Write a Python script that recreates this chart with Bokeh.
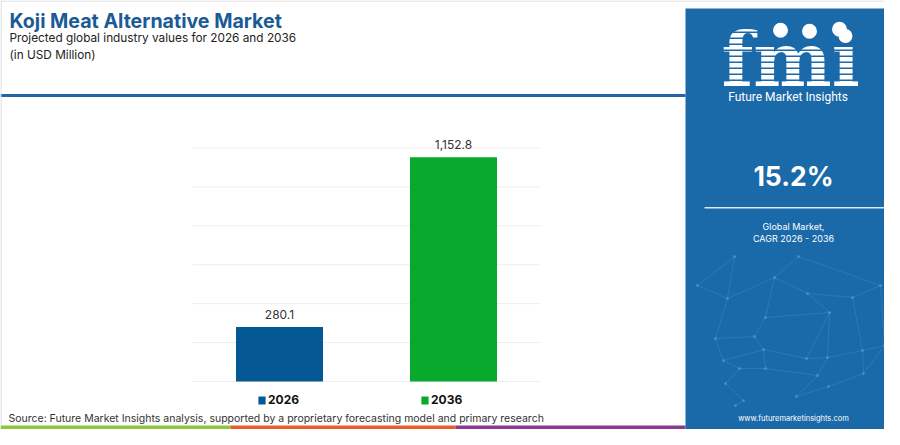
from bokeh.plotting import figure
from bokeh.models import Range1d, Legend, LegendItem, ColumnDataSource, LinearScale
from bokeh.embed import file_html
from bokeh.resources import INLINE
from bokeh.core.properties import value

# ---------------- data ----------------
years = ["2026", "2036"]
values = [280.1, 1152.8]
value_labels = ["280.1", "1,152.8"]
bar_colors = ["#045893", "#07aa2d"]
grid_ticks = [0, 200, 400, 600, 800, 1000, 1200]

title_text = "Koji Meat Alternative Market"
subtitle_text = "Projected global industry values for 2026 and 2036"
unit_text = "(in USD Million)"
cagr_text = "15.2%"
cagr_note1 = "Global Market,"
cagr_note2 = "CAGR 2026 - 2036"
brand_text = "Future Market Insights"
site_text = "www.futuremarketinsights.com"
source_text = ("Source: Future Market Insights analysis, supported by a proprietary "
               "forecasting model and primary research")

FONT = "Inter"
PANEL = "#1a69a9"
W, H = 884, 429
PANEL_X = 685

# one canvas-sized figure used as a page; the bar chart is a subplot in it
p = figure(width=W, height=H, output_backend="svg", toolbar_location=None,
           x_range=Range1d(0, W), y_range=Range1d(H, 0),
           x_axis_location=None, y_axis_location=None,
           min_border=0, min_border_left=0, min_border_right=0,
           min_border_top=0, min_border_bottom=0)
p.outline_line_color = None
p.background_fill_color = "white"
p.border_fill_color = "white"
for g in p.grid:
    g.visible = False


def txt(x, y, text, size, color, style="normal", align="left", font=FONT):
    p.text(x=[x], y=[y], text=[text], text_font=value(font), text_font_size=size,
           text_color=color, text_font_style=style, text_align=align,
           text_baseline="middle")


# ---------------- bar chart (subplot with its own scales) ----------------
chart_x = Range1d(192, 540)        # where the category band sits on the page
chart_y = Range1d(381, 147.5)      # where 0 .. 1200 sit on the page
val_range = Range1d(0, 1200)
cat_range = Range1d(0, len(years))
cat = p.subplot(x_source=cat_range, y_source=val_range,
                x_scale=LinearScale(), y_scale=LinearScale(),
                x_target=chart_x, y_target=chart_y)
cat.segment(x0=[0] * len(grid_ticks), x1=[len(years)] * len(grid_ticks),
            y0=grid_ticks, y1=grid_ticks, line_color="#eeeeee", line_width=1)

year_pos = [i + 0.5 for i, _ in enumerate(years)]
src = ColumnDataSource(dict(x=year_pos, year=years, value=values, label=value_labels,
                            color=bar_colors))
bars = cat.vbar(x="x", top="value", width=0.5, fill_color="color",
                line_color=None, source=src)
cat.text(x="x", y="value", text="label", source=src, text_align="center",
         text_baseline="middle", y_offset=-12.5, text_font=value(FONT),
         text_font_size="12px", text_color="#333333")

for i, lx in enumerate([257, 420]):
    lg = Legend(items=[LegendItem(label=years[i], renderers=[bars], index=i)],
                location=(lx, H - 407), orientation="horizontal",
                glyph_width=9, glyph_height=10, label_height=10, label_standoff=2,
                padding=0, margin=0, border_line_color=None, background_fill_alpha=0,
                label_text_font=FONT, label_text_font_size="12px",
                label_text_font_style="bold", label_text_color="#111111")
    p.add_layout(lg)

# ---------------- header ----------------
txt(9, 20.5, title_text, "19.6px", "#1a5b96", style="bold")
txt(9, 37.5, subtitle_text, "11.8px", "#222222")
txt(9, 54, unit_text, "11.8px", "#222222")
p.quad(left=[0], right=[PANEL_X], top=[93.5], bottom=[96.5], fill_color="#2366a5", line_color=None)
p.segment(x0=[0, 0.5], y0=[0.5, 0], x1=[W, 0.5], y1=[0.5, H], line_color="#d6d6d6", line_width=1)

# ---------------- footer ----------------
txt(8, 418, source_text, "10.5px", "#333333")
p.quad(left=[0, 230, 455], right=[230, 455, PANEL_X], top=[425] * 3, bottom=[429] * 3,
       fill_color=["#8dc63f", "#e85d2c", "#8b3a91"], line_color=None)

# ---------------- right panel ----------------
p.quad(left=[PANEL_X], right=[W], top=[8], bottom=[H], fill_color=PANEL, line_color=None)

# faint network pattern in the lower panel
net_x = [734, 798, 697, 727, 774, 807, 852, 880, 765, 829, 715, 754, 723, 763, 806,
         827, 862, 884, 739, 765, 817, 725, 743, 796, 828, 863, 735]
net_y = [256, 256, 285, 298, 277, 293, 297, 285, 317, 312, 338, 336, 360, 349, 358,
         357, 350, 345, 368, 368, 375, 383, 400, 396, 386, 373, 405]
edges = [(0, 3), (1, 4), (1, 7), (2, 3), (3, 4), (4, 5), (5, 6), (6, 7), (4, 8), (5, 9),
         (3, 10), (10, 11), (8, 11), (8, 9), (9, 14), (11, 13), (10, 12), (12, 13),
         (13, 14), (14, 15), (15, 16), (16, 17), (6, 16), (12, 18), (18, 19), (13, 19),
         (19, 20), (15, 20), (18, 21), (21, 22), (22, 26), (20, 23), (23, 24), (24, 25),
         (16, 25), (25, 17), (9, 15), (0, 2), (7, 17)]
p.segment(x0=[net_x[a] for a, b in edges], y0=[net_y[a] for a, b in edges],
          x1=[net_x[b] for a, b in edges], y1=[net_y[b] for a, b in edges],
          line_color="#8fc0e6", line_alpha=0.22, line_width=0.8)
p.scatter(x=net_x, y=net_y, size=3, marker="circle", fill_color="#8fc0e6",
          fill_alpha=0.35, line_color=None)

txt(721, 59.5, "fmi", "74px", "white", style="bold", font="DejaVu Serif")
stripe_y = list(range(43, 85, 6))
p.quad(left=[716] * len(stripe_y), right=[860] * len(stripe_y),
       top=stripe_y, bottom=[y + 1.5 for y in stripe_y], fill_color=PANEL, line_color=None)
stripe_f = [31, 37]
p.quad(left=[716] * 2, right=[772] * 2, top=stripe_f, bottom=[y + 1.5 for y in stripe_f],
       fill_color=PANEL, line_color=None)
p.scatter(x=[780, 809, 839], y=[29.7, 30.7, 28.7], size=15, marker="circle",
          fill_color="white", line_color=None)
txt(787.5, 96.5, brand_text, "12px", "white", align="center", font="Roboto")
txt(793, 175, cagr_text, "26.5px", "white", style="bold", align="center")
p.segment(x0=[704], y0=[207.3], x1=[885], y1=[207.3], line_color="white",
          line_alpha=0.85, line_width=1.5)
txt(793, 226, cagr_note1, "9px", "white", align="center")
txt(793, 238, cagr_note2, "9px", "white", align="center")
txt(793, 418, site_text, "7.5px", "white", align="center")

open("out.html", "w").write(file_html(p, INLINE))
